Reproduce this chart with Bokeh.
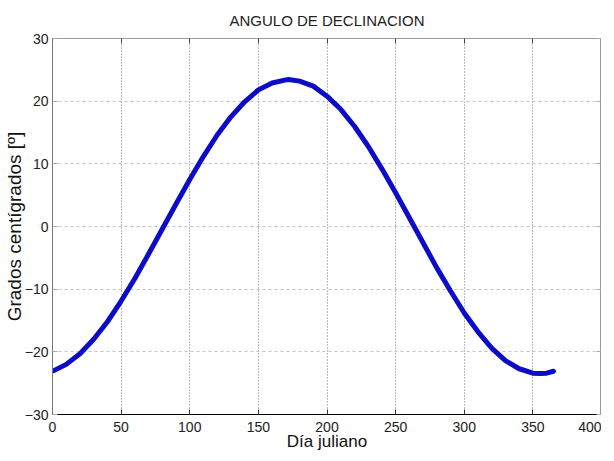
from bokeh.plotting import figure
from bokeh.models import Range1d, LinearAxis, FixedTicker
from bokeh.embed import file_html
from bokeh.resources import INLINE

# Data
days = [1, 10, 20, 30, 40, 50, 60, 70, 80, 90, 100, 110, 120, 130, 140, 150,
        160, 170, 172, 180, 190, 200, 210, 220, 230, 240, 250, 260, 270, 280,
        290, 300, 310, 320, 330, 340, 350, 355, 360, 365]
decl = [-23.0, -22.0, -20.3, -18.0, -15.2, -11.9, -8.3, -4.4, -0.4, 3.6, 7.5,
        11.2, 14.6, 17.5, 19.9, 21.8, 22.9, 23.4, 23.45, 23.2, 22.4, 20.8, 18.7,
        16.0, 12.8, 9.2, 5.4, 1.4, -2.6, -6.6, -10.3, -13.8, -16.8, -19.4,
        -21.4, -22.7, -23.4, -23.45, -23.4, -23.1]
x_ticks = [0, 50, 100, 150, 200, 250, 300, 350, 400]
y_ticks = [-30, -20, -10, 0, 10, 20, 30]

title_text = "ANGULO DE DECLINACION"
x_label = "Día juliano"
y_label = "Grados centígrados [º]"

FONT = "Liberation Sans"

p = figure(width=601, height=453, output_backend="svg", toolbar_location=None,
           x_range=Range1d(0, 400), y_range=Range1d(-30, 30),
           min_border_left=0, min_border_right=0, min_border_top=0,
           min_border_bottom=0)

p.title.text = title_text
p.title.align = "center"
p.title.text_font = FONT
p.title.text_font_size = "15px"
p.title.text_font_style = "normal"
p.title.text_color = "#222222"
p.title.standoff = 19

p.background_fill_color = "white"
p.border_fill_color = "white"
p.outline_line_color = "#9a9a9a"
p.outline_line_width = 1

p.line(days, decl, line_color="#0c0cc8", line_width=5, line_cap="round",
       line_join="round")

xt = FixedTicker(ticks=x_ticks)
yt = FixedTicker(ticks=y_ticks)

for ax in p.xaxis:
    ax.ticker = xt
    ax.axis_label = x_label
for ax in p.yaxis:
    ax.ticker = yt
    ax.axis_label = y_label

for ax in list(p.xaxis) + list(p.yaxis):
    ax.major_tick_in = 5
    ax.major_tick_out = 0
    ax.minor_tick_line_color = None
    ax.major_label_text_font = FONT
    ax.major_label_text_font_size = "14px"
    ax.major_label_text_color = "#222222"
    ax.axis_label_text_font = FONT
    ax.axis_label_text_font_style = "normal"
    ax.axis_label_text_color = "#111111"

p.xaxis.axis_line_color = "#000000"
p.xaxis.major_tick_line_color = "#333333"
p.xaxis.major_label_standoff = 7
p.xaxis.axis_label_standoff = -3
p.xaxis.axis_label_text_font_size = "17px"

p.yaxis.axis_line_color = "#777777"
p.yaxis.major_tick_line_color = "#aaaaaa"
p.yaxis.major_label_standoff = 4
p.yaxis.axis_label_standoff = -3
p.yaxis.axis_label_text_font_size = "19px"

# mirrored ticks on top and right, as in the reference frame (no labels)
top = LinearAxis(ticker=xt, major_tick_in=5, major_tick_out=0,
                 minor_tick_line_color=None, major_label_text_font_size="1px",
                 major_label_text_color=None,
                 major_label_standoff=0, axis_line_color="#9a9a9a",
                 major_tick_line_color="#444444")
right = LinearAxis(ticker=yt, major_tick_in=5, major_tick_out=0,
                   minor_tick_line_color=None, major_label_text_font_size="1px",
                   major_label_text_color=None,
                   major_label_standoff=-4, axis_line_color="#9a9a9a",
                   major_tick_line_color="#aaaaaa")
p.add_layout(top, "above")
p.add_layout(right, "right")

p.xgrid.ticker = xt
p.ygrid.ticker = yt
p.xgrid.grid_line_color = "#7a7a7a"
p.xgrid.grid_line_dash = "1 2"
p.ygrid.grid_line_color = "#c4c4c4"
p.ygrid.grid_line_dash = "3 3"

open("out.html", "w").write(file_html(p, INLINE))
